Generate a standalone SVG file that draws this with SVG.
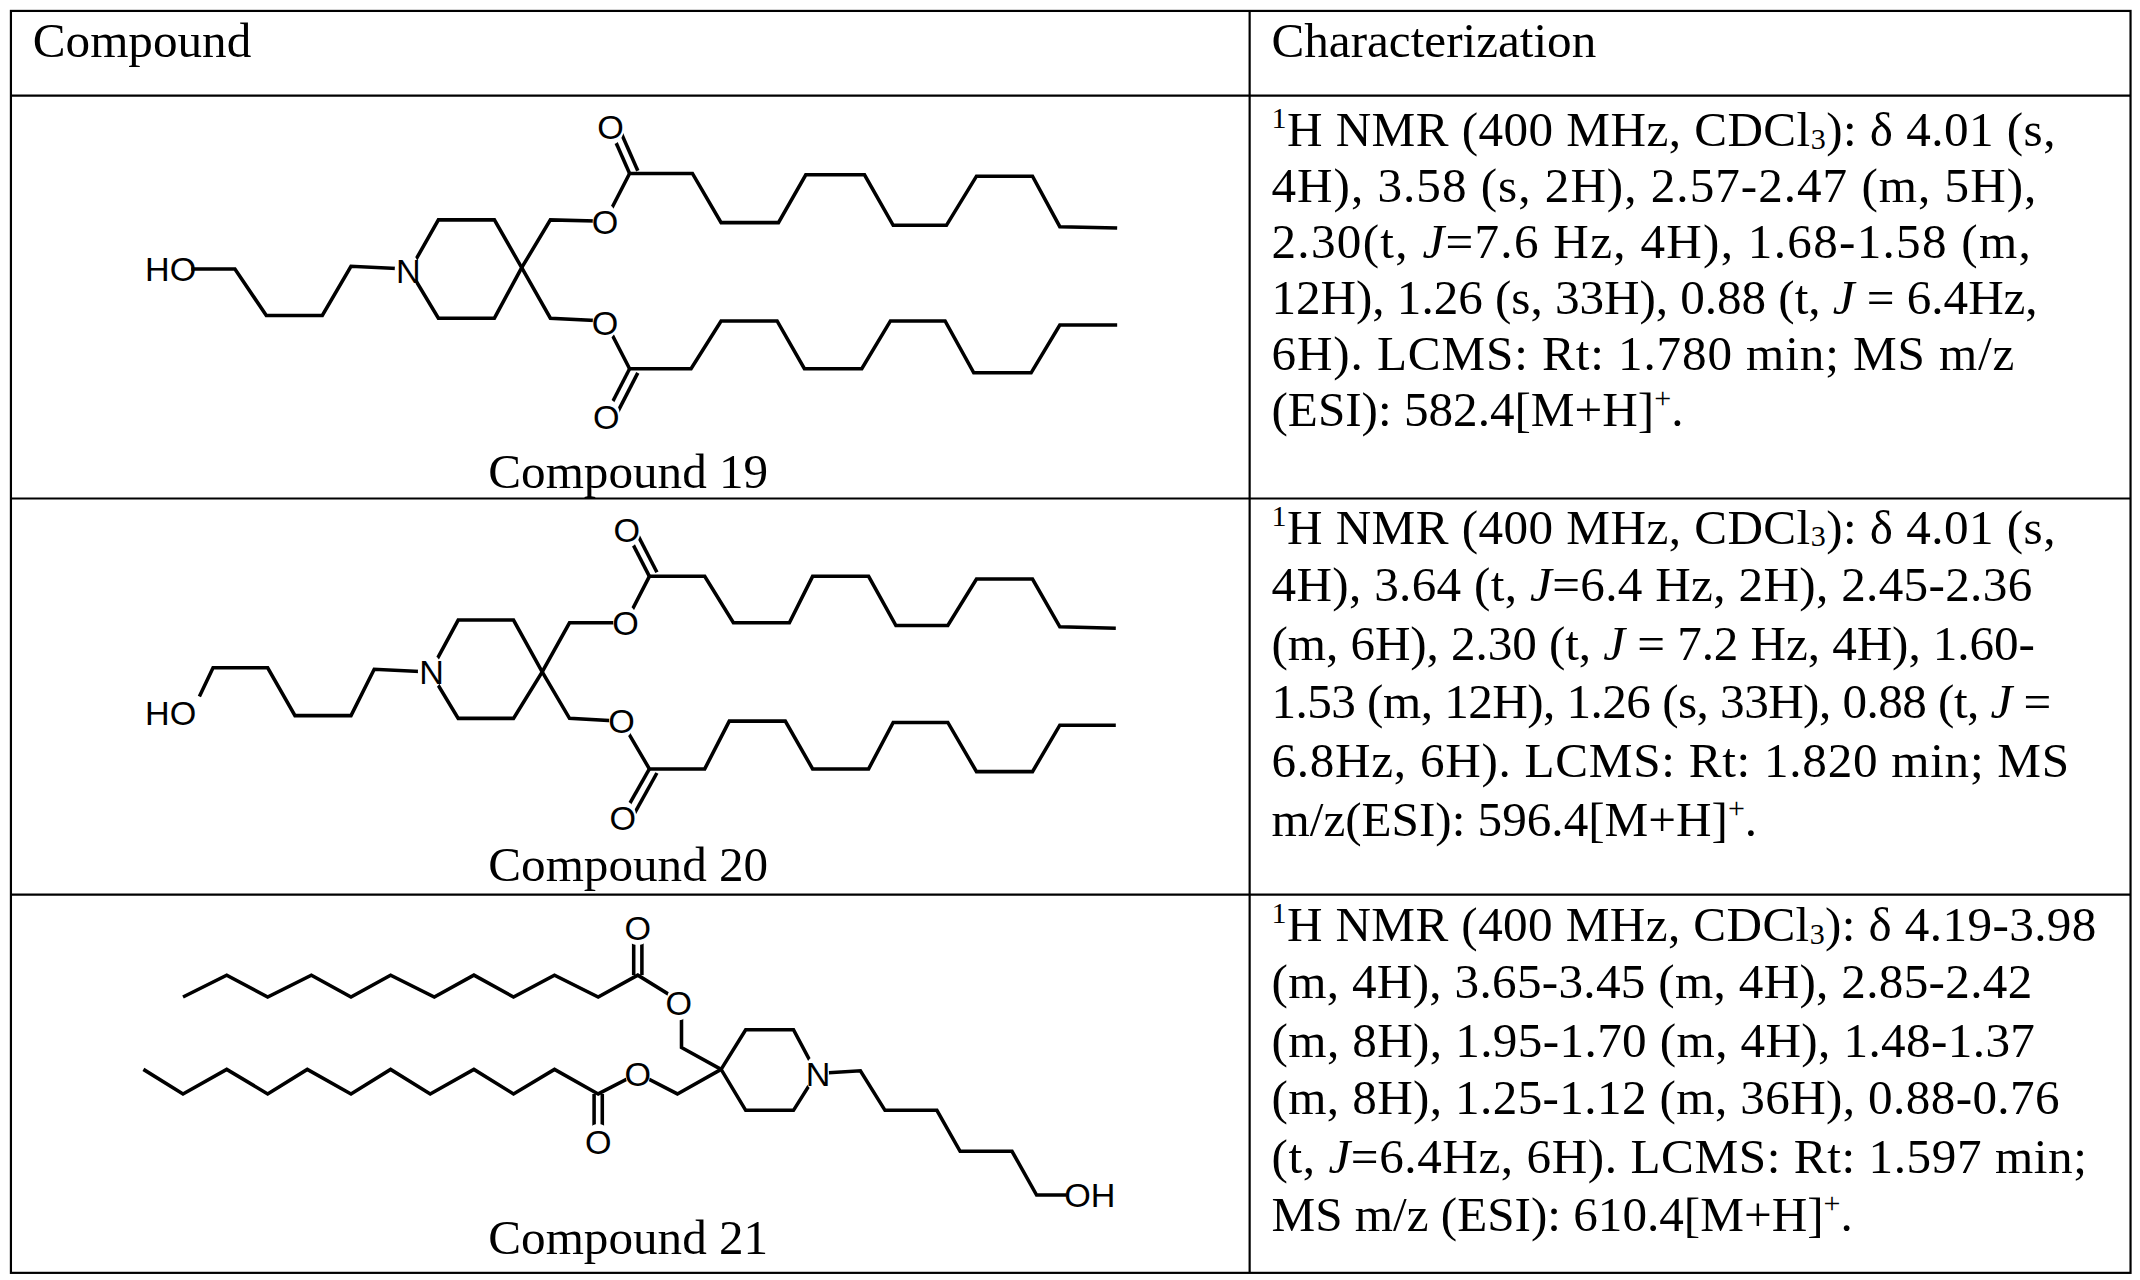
<svg xmlns="http://www.w3.org/2000/svg" width="2140" height="1280" viewBox="0 0 2140 1280">
<style>
.t{font-family:"Liberation Serif","Times New Roman",serif;font-size:36px;fill:#000}
.c{font-family:"Liberation Serif","Times New Roman",serif;font-size:36px;fill:#000;text-anchor:middle}
.a{font-family:"Liberation Sans",Arial,sans-serif;font-size:25px;fill:#000;text-anchor:middle}
.b{fill:none;stroke:#000;stroke-width:2.6;stroke-linejoin:miter}
.bg{fill:#fff}
.g{fill:none;stroke:#000;stroke-width:1.6}
.s{font-size:22px}
</style>
<rect width="2140" height="1280" fill="#fff"/>
<g transform="scale(1.36573)">
<g id="table">
<rect class="g" x="8" y="8" width="1552" height="924"/>
<line class="g" x1="915" y1="8" x2="915" y2="932"/>
<line class="g" x1="8" y1="70" x2="1560" y2="70"/>
<line class="g" x1="8" y1="365" x2="1560" y2="365"/>
<line class="g" x1="8" y1="655" x2="1560" y2="655"/>
<text class="t" x="24" y="42">Compound</text>
<text class="t" x="931" y="42">Characterization</text>
</g>
<g id="char19">
<text class="t" x="931" y="107" textLength="574" lengthAdjust="spacing"><tspan class="s" dy="-13">1</tspan><tspan dy="13">H NMR (400 MHz, CDCl</tspan><tspan class="s" dy="2">3</tspan><tspan dy="-2">): δ 4.01 (s,</tspan></text>
<text class="t" x="931" y="148" textLength="560" lengthAdjust="spacing">4H), 3.58 (s, 2H), 2.57-2.47 (m, 5H),</text>
<text class="t" x="931" y="189" textLength="556" lengthAdjust="spacing">2.30(t, <tspan font-style="italic">J</tspan>=7.6 Hz, 4H), 1.68-1.58 (m,</text>
<text class="t" x="931" y="230" textLength="561" lengthAdjust="spacing">12H), 1.26 (s, 33H), 0.88 (t, <tspan font-style="italic">J</tspan> = 6.4Hz,</text>
<text class="t" x="931" y="271" textLength="544" lengthAdjust="spacing">6H).  LCMS: Rt: 1.780 min; MS m/z</text>
<text class="t" x="931" y="312">(ESI): 582.4[M+H]<tspan class="s" dy="-13">+</tspan><tspan dy="13">.</tspan></text>
</g>
<g id="char20">
<text class="t" x="931" y="398" textLength="574" lengthAdjust="spacing"><tspan class="s" dy="-13">1</tspan><tspan dy="13">H NMR (400 MHz, CDCl</tspan><tspan class="s" dy="2">3</tspan><tspan dy="-2">): δ 4.01 (s,</tspan></text>
<text class="t" x="931" y="440" textLength="557" lengthAdjust="spacing">4H), 3.64 (t, <tspan font-style="italic">J</tspan>=6.4 Hz, 2H), 2.45-2.36</text>
<text class="t" x="931" y="483" textLength="559" lengthAdjust="spacing">(m, 6H), 2.30 (t, <tspan font-style="italic">J</tspan> = 7.2 Hz, 4H), 1.60-</text>
<text class="t" x="931" y="526" textLength="571" lengthAdjust="spacing">1.53 (m, 12H), 1.26 (s, 33H), 0.88 (t, <tspan font-style="italic">J</tspan> =</text>
<text class="t" x="931" y="569" textLength="584" lengthAdjust="spacing">6.8Hz, 6H).  LCMS: Rt: 1.820 min; MS</text>
<text class="t" x="931" y="612">m/z(ESI): 596.4[M+H]<tspan class="s" dy="-13">+</tspan><tspan dy="13">.</tspan></text>
</g>
<g id="char21">
<text class="t" x="931" y="689" textLength="604" lengthAdjust="spacing"><tspan class="s" dy="-13">1</tspan><tspan dy="13">H NMR (400 MHz, CDCl</tspan><tspan class="s" dy="2">3</tspan><tspan dy="-2">): δ 4.19-3.98</tspan></text>
<text class="t" x="931" y="731" textLength="557" lengthAdjust="spacing">(m, 4H), 3.65-3.45 (m, 4H), 2.85-2.42</text>
<text class="t" x="931" y="774" textLength="559" lengthAdjust="spacing">(m, 8H), 1.95-1.70 (m, 4H), 1.48-1.37</text>
<text class="t" x="931" y="816" textLength="577" lengthAdjust="spacing">(m, 8H), 1.25-1.12 (m, 36H), 0.88-0.76</text>
<text class="t" x="931" y="859" textLength="597" lengthAdjust="spacing">(t, <tspan font-style="italic">J</tspan>=6.4Hz, 6H).  LCMS: Rt: 1.597 min;</text>
<text class="t" x="931" y="901">MS m/z (ESI): 610.4[M+H]<tspan class="s" dy="-13">+</tspan><tspan dy="13">.</tspan></text>
</g>
<g id="compound19">
<polyline class="b" points="140,197 172,197 195,231 236,231 257,195 298,197"/>
<polygon class="b" points="300,198 321,161 362,161 382,196 362,233 321,233"/>
<polyline class="b" points="382,196 403,161 443,162 461,127 507,127 528,163 570,163 590,128 633,128 654,165 693,165 715,129 756,129 776,166 818,167"/>
<polyline class="b" points="382,196 403,233 443,235 461,270 506,270 528,235 569,235 589,270 631,270 652,235 692,235 713,273 755,273 776,238 818,238"/>
<line class="b" x1="461" y1="127" x2="446" y2="93"/><line class="b" x1="467" y1="125" x2="452" y2="91"/>
<line class="b" x1="461" y1="270" x2="443" y2="305"/><line class="b" x1="467" y1="273" x2="449" y2="308"/>
<ellipse class="bg" cx="298" cy="198" rx="9" ry="13"/>
<ellipse class="bg" cx="443" cy="162" rx="9" ry="13"/><ellipse class="bg" cx="447" cy="93" rx="10" ry="13"/>
<ellipse class="bg" cx="443" cy="236" rx="9" ry="13"/><ellipse class="bg" cx="444" cy="305" rx="10" ry="13"/>
<text class="a" x="125" y="206">HO</text>
<text class="a" x="299" y="207">N</text>
<text class="a" x="443" y="171">O</text><text class="a" x="447" y="102">O</text>
<text class="a" x="443" y="245">O</text><text class="a" x="444" y="314">O</text>
<text class="c" x="460" y="357">Compound 19</text>
</g>
<g id="compound20">
<polyline class="b" points="146,510 156,489 196,489 216,524 257,524 274,490 315,492"/>
<polygon class="b" points="315,492 335.5,454 376,454 397,492 376,526 335.5,526"/>
<polyline class="b" points="397,492 417,456 458,456 475.5,422 516,422 537,456 578,456 595,422 636,422 656,458 694,458 715,424 756,424 776,459 817,460"/>
<polyline class="b" points="397,492 417,526 455,528 475.5,563 516,563 534,528 575,528 595,563 636,563 654,529 694,529 715,565 756,565 776,531 817,531"/>
<line class="b" x1="475.5" y1="422" x2="458" y2="388"/><line class="b" x1="481" y1="419" x2="464" y2="386"/>
<line class="b" x1="475.5" y1="563" x2="455" y2="599"/><line class="b" x1="481" y1="566" x2="461" y2="602"/>
<ellipse class="bg" cx="315" cy="492" rx="9" ry="13"/>
<ellipse class="bg" cx="458" cy="456" rx="9" ry="13"/><ellipse class="bg" cx="459" cy="388" rx="10" ry="13"/>
<ellipse class="bg" cx="455" cy="528" rx="9" ry="13"/><ellipse class="bg" cx="456" cy="599" rx="10" ry="13"/>
<text class="a" x="125" y="531">HO</text>
<text class="a" x="316" y="501">N</text>
<text class="a" x="458" y="465">O</text><text class="a" x="459" y="397">O</text>
<text class="a" x="455" y="537">O</text><text class="a" x="456" y="608">O</text>
<text class="c" x="460" y="645">Compound 20</text>
</g>
<g id="compound21">
<polyline class="b" points="134,730 166,714 196,730 228,714 257,730 286,714 318,730 347,714 376,730 406,714 438,730 467,714 496,732 499,743 499,767 528,783"/>
<polyline class="b" points="105,783 134,801 166,783 196,801 225,783 257,801 286,783 315,801 347,783 376,801 406,783 438,801 467,786 496,801 528,783"/>
<polygon class="b" points="528,783 546,754 581,754 598,786 581,813 546,813"/>
<polyline class="b" points="598,786 630,784 648,813 686,813 703,843 741,843 759,875 781,875"/>
<line class="b" x1="464" y1="714" x2="464" y2="679"/><line class="b" x1="470" y1="714" x2="470" y2="679"/>
<line class="b" x1="435" y1="801" x2="435" y2="836"/><line class="b" x1="441" y1="801" x2="441" y2="836"/>
<ellipse class="bg" cx="598" cy="786" rx="9" ry="13"/>
<ellipse class="bg" cx="497" cy="734" rx="9" ry="13"/><ellipse class="bg" cx="467" cy="679" rx="10" ry="13"/>
<ellipse class="bg" cx="467" cy="786" rx="9" ry="13"/><ellipse class="bg" cx="438" cy="836" rx="10" ry="13"/>
<text class="a" x="599" y="795">N</text>
<text class="a" x="497" y="743">O</text><text class="a" x="467" y="688">O</text>
<text class="a" x="467" y="795">O</text><text class="a" x="438" y="845">O</text>
<text class="a" x="798" y="884">OH</text>
<text class="c" x="460" y="918">Compound 21</text>
</g>
</g>
</svg>
